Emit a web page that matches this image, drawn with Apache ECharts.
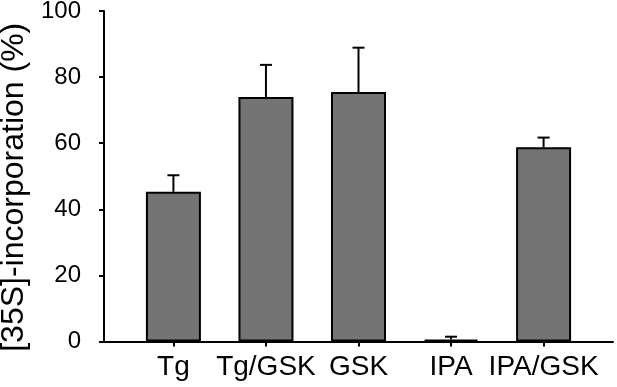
<!DOCTYPE html>
<html>
<head>
<meta charset="utf-8">
<script src="https://cdn.jsdelivr.net/npm/echarts@6/dist/echarts.min.js"></script>
<style>
html,body{margin:0;padding:0;background:#fff;}
#chart{width:617px;height:387px;}
</style>
</head>
<body>
<div id="chart"></div>
<script>
// Data
var categories = ['Tg', 'Tg/GSK', 'GSK', 'IPA', 'IPA/GSK'];
var positions = [1, 2, 3, 4, 5];
var meanValues = [45.3, 74.0, 75.5, 0.6, 58.8];
var errorValues = [5.0, 9.7, 13.4, 0.85, 2.9];
var yTicks = [0, 20, 40, 60, 80, 100];

var FONT = 'Liberation Sans, Arial, Helvetica, sans-serif';

var barData = positions.map(function (p, i) { return [p, meanValues[i]]; });
var errData = positions.map(function (p, i) { return [p, meanValues[i], meanValues[i] + errorValues[i]]; });

var chart = echarts.init(document.getElementById('chart'), null, {renderer: 'canvas'});
chart.setOption({
  animation: false,
  backgroundColor: '#ffffff',
  grid: {left: 104, right: 4, top: 11, bottom: 45.5, containLabel: false, outerBoundsMode: 'none'},
  xAxis: {
    type: 'value',
    min: 0.25,
    max: 5.75,
    splitLine: {show: false},
    axisLine: {show: true, onZero: false, lineStyle: {color: '#000', width: 2}},
    axisTick: {show: true, inside: false, length: 5, lineStyle: {color: '#000', width: 2}, customValues: positions},
    axisLabel: {
      show: true, margin: 12, color: '#000', fontFamily: FONT, fontSize: 28,
      customValues: positions,
      formatter: function (v) { var i = positions.indexOf(Math.round(v)); return i >= 0 ? categories[i] : ''; }
    }
  },
  yAxis: {
    type: 'value',
    min: yTicks[0],
    max: yTicks[yTicks.length - 1],
    interval: 20,
    splitLine: {show: false},
    axisLine: {show: true, lineStyle: {color: '#000', width: 2}},
    axisTick: {show: true, inside: false, length: 5, lineStyle: {color: '#000', width: 2}},
    axisLabel: {margin: 23, color: '#000', fontFamily: FONT, fontSize: 24},
    name: '[35S]-incorporation (%)',
    nameLocation: 'middle',
    nameRotate: 90,
    nameGap: 69,
    nameTextStyle: {color: '#000', fontFamily: FONT, fontSize: 32, padding: [0, 22, 0, 0]}
  },
  series: [
    {
      type: 'bar',
      data: barData,
      barWidth: 55,
      itemStyle: {color: '#747474', borderColor: '#000', borderWidth: 2}
    },
    {
      type: 'custom',
      data: errData,
      z: 1,
      renderItem: function (params, api) {
        var x = api.value(0);
        var base = api.coord([x, api.value(1)]);
        var top = api.coord([x, api.value(2)]);
        var hw = 6;
        return {
          type: 'group',
          children: [
            {type: 'line', shape: {x1: base[0], y1: base[1], x2: top[0], y2: top[1]}, style: {stroke: '#000', lineWidth: 2}},
            {type: 'line', shape: {x1: top[0] - hw, y1: top[1], x2: top[0] + hw, y2: top[1]}, style: {stroke: '#000', lineWidth: 2}}
          ]
        };
      }
    }
  ]
});
</script>
</body>
</html>
